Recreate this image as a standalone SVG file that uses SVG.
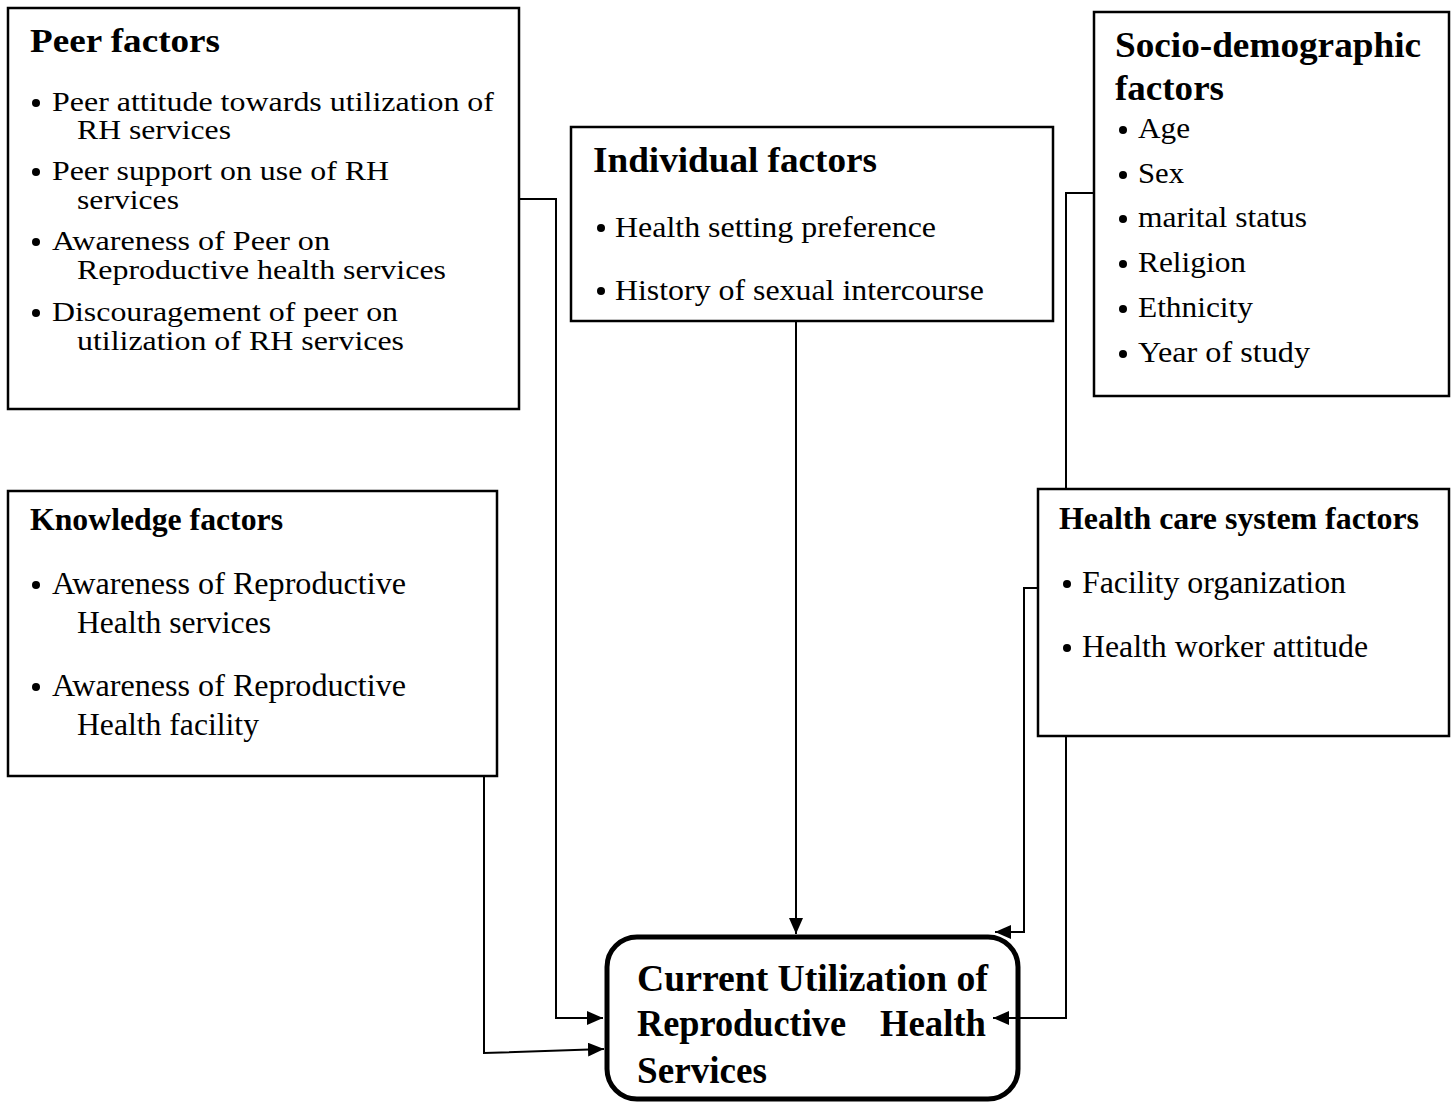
<svg xmlns="http://www.w3.org/2000/svg" width="1455" height="1105" viewBox="0 0 1455 1105" font-family="'Liberation Serif', 'Times New Roman', serif">
<style>
.box{fill:#fff;stroke:#000;stroke-width:2.5}
.main{fill:#fff;stroke:#000;stroke-width:5}
.b{font-weight:bold}
.con{fill:none;stroke:#000;stroke-width:2}
.dot{fill:#000}
</style>
<defs>
<marker id="arr" viewBox="0 0 16 14" refX="16" refY="7" markerWidth="16" markerHeight="14" markerUnits="userSpaceOnUse" orient="auto">
<path d="M0,0 L16,7 L0,14 Z" fill="#000"/>
</marker>
</defs>
<rect width="1455" height="1105" fill="#fff"/>

<g id="peer">
<rect class="box" x="8" y="8" width="511" height="401"/>
<text class="b" x="30" y="52" font-size="33" textLength="190" lengthAdjust="spacingAndGlyphs">Peer factors</text>
<circle class="dot" cx="36" cy="103" r="4"/>
<text x="52" y="111" font-size="27" textLength="442" lengthAdjust="spacingAndGlyphs">Peer attitude towards utilization of</text>
<text x="77" y="139" font-size="27" textLength="154" lengthAdjust="spacingAndGlyphs">RH services</text>
<circle class="dot" cx="36" cy="172" r="4"/>
<text x="52" y="180" font-size="27" textLength="337" lengthAdjust="spacingAndGlyphs">Peer support on use of RH</text>
<text x="77" y="209" font-size="27" textLength="102" lengthAdjust="spacingAndGlyphs">services</text>
<circle class="dot" cx="36" cy="242" r="4"/>
<text x="52" y="250" font-size="27" textLength="278" lengthAdjust="spacingAndGlyphs">Awareness of Peer on</text>
<text x="77" y="279" font-size="27" textLength="369" lengthAdjust="spacingAndGlyphs">Reproductive health services</text>
<circle class="dot" cx="36" cy="313" r="4"/>
<text x="52" y="321" font-size="27" textLength="346" lengthAdjust="spacingAndGlyphs">Discouragement of peer on</text>
<text x="77" y="350" font-size="27" textLength="327" lengthAdjust="spacingAndGlyphs">utilization of RH services</text>
</g>

<g id="individual">
<rect class="box" x="571" y="127" width="482" height="194"/>
<text class="b" x="593" y="172" font-size="35" textLength="284" lengthAdjust="spacingAndGlyphs">Individual factors</text>
<circle class="dot" cx="601" cy="228" r="4"/>
<text x="615" y="237" font-size="30" textLength="321" lengthAdjust="spacingAndGlyphs">Health setting preference</text>
<circle class="dot" cx="601" cy="291" r="4"/>
<text x="615" y="300" font-size="30" textLength="369" lengthAdjust="spacingAndGlyphs">History of sexual intercourse</text>
</g>

<g id="socio">
<rect class="box" x="1094" y="12" width="355" height="384"/>
<text class="b" x="1115" y="57" font-size="36" textLength="306" lengthAdjust="spacingAndGlyphs">Socio-demographic</text>
<text class="b" x="1115" y="100" font-size="36" textLength="109" lengthAdjust="spacingAndGlyphs">factors</text>
<circle class="dot" cx="1123" cy="130" r="4"/>
<text x="1138" y="138" font-size="29" textLength="52" lengthAdjust="spacingAndGlyphs">Age</text>
<circle class="dot" cx="1123" cy="175" r="4"/>
<text x="1138" y="183" font-size="29" textLength="46" lengthAdjust="spacingAndGlyphs">Sex</text>
<circle class="dot" cx="1123" cy="219" r="4"/>
<text x="1138" y="227" font-size="29" textLength="169" lengthAdjust="spacingAndGlyphs">marital status</text>
<circle class="dot" cx="1123" cy="264" r="4"/>
<text x="1138" y="272" font-size="29" textLength="108" lengthAdjust="spacingAndGlyphs">Religion</text>
<circle class="dot" cx="1123" cy="309" r="4"/>
<text x="1138" y="317" font-size="29" textLength="115" lengthAdjust="spacingAndGlyphs">Ethnicity</text>
<circle class="dot" cx="1123" cy="354" r="4"/>
<text x="1138" y="362" font-size="29" textLength="172" lengthAdjust="spacingAndGlyphs">Year of study</text>
</g>

<g id="knowledge">
<rect class="box" x="8" y="491" width="489" height="285"/>
<text class="b" x="30" y="530" font-size="31" textLength="253" lengthAdjust="spacingAndGlyphs">Knowledge factors</text>
<circle class="dot" cx="36" cy="585" r="4"/>
<text x="52" y="594" font-size="31" textLength="354" lengthAdjust="spacingAndGlyphs">Awareness of Reproductive</text>
<text x="77" y="633" font-size="31" textLength="194" lengthAdjust="spacingAndGlyphs">Health services</text>
<circle class="dot" cx="36" cy="687" r="4"/>
<text x="52" y="696" font-size="31" textLength="354" lengthAdjust="spacingAndGlyphs">Awareness of Reproductive</text>
<text x="77" y="735" font-size="31" textLength="182" lengthAdjust="spacingAndGlyphs">Health facility</text>
</g>

<g id="healthcare">
<rect class="box" x="1038" y="489" width="411" height="247"/>
<text class="b" x="1059" y="529" font-size="31" textLength="360" lengthAdjust="spacingAndGlyphs">Health care system factors</text>
<circle class="dot" cx="1067" cy="584" r="4"/>
<text x="1082" y="593" font-size="31" textLength="264" lengthAdjust="spacingAndGlyphs">Facility organization</text>
<circle class="dot" cx="1067" cy="648" r="4"/>
<text x="1082" y="657" font-size="31" textLength="286" lengthAdjust="spacingAndGlyphs">Health worker attitude</text>
</g>

<g id="outcome">
<rect class="main" x="607" y="937" width="411" height="162" rx="30" ry="30"/>
<text class="b" x="637" y="991" font-size="37" textLength="351" lengthAdjust="spacingAndGlyphs">Current Utilization of</text>
<text class="b" x="637" y="1036" font-size="37" textLength="209" lengthAdjust="spacingAndGlyphs">Reproductive</text>
<text class="b" x="880" y="1036" font-size="37" textLength="106" lengthAdjust="spacingAndGlyphs">Health</text>
<text class="b" x="637" y="1083" font-size="37" textLength="130" lengthAdjust="spacingAndGlyphs">Services</text>
</g>

<g id="connectors">
<path class="con" d="M796,321 L796,934" marker-end="url(#arr)"/>
<path class="con" d="M519,199 L556,199 L556,1018 L603,1018" marker-end="url(#arr)"/>
<path class="con" d="M484,776 L484,1053 L604,1049" marker-end="url(#arr)"/>
<path class="con" d="M1038,588 L1024,588 L1024,932 L995,932" marker-end="url(#arr)"/>
<path class="con" d="M1066,736 L1066,1018 L993,1018" marker-end="url(#arr)"/>
<path class="con" d="M1094,193 L1066,193 L1066,489"/>
</g>
</svg>
